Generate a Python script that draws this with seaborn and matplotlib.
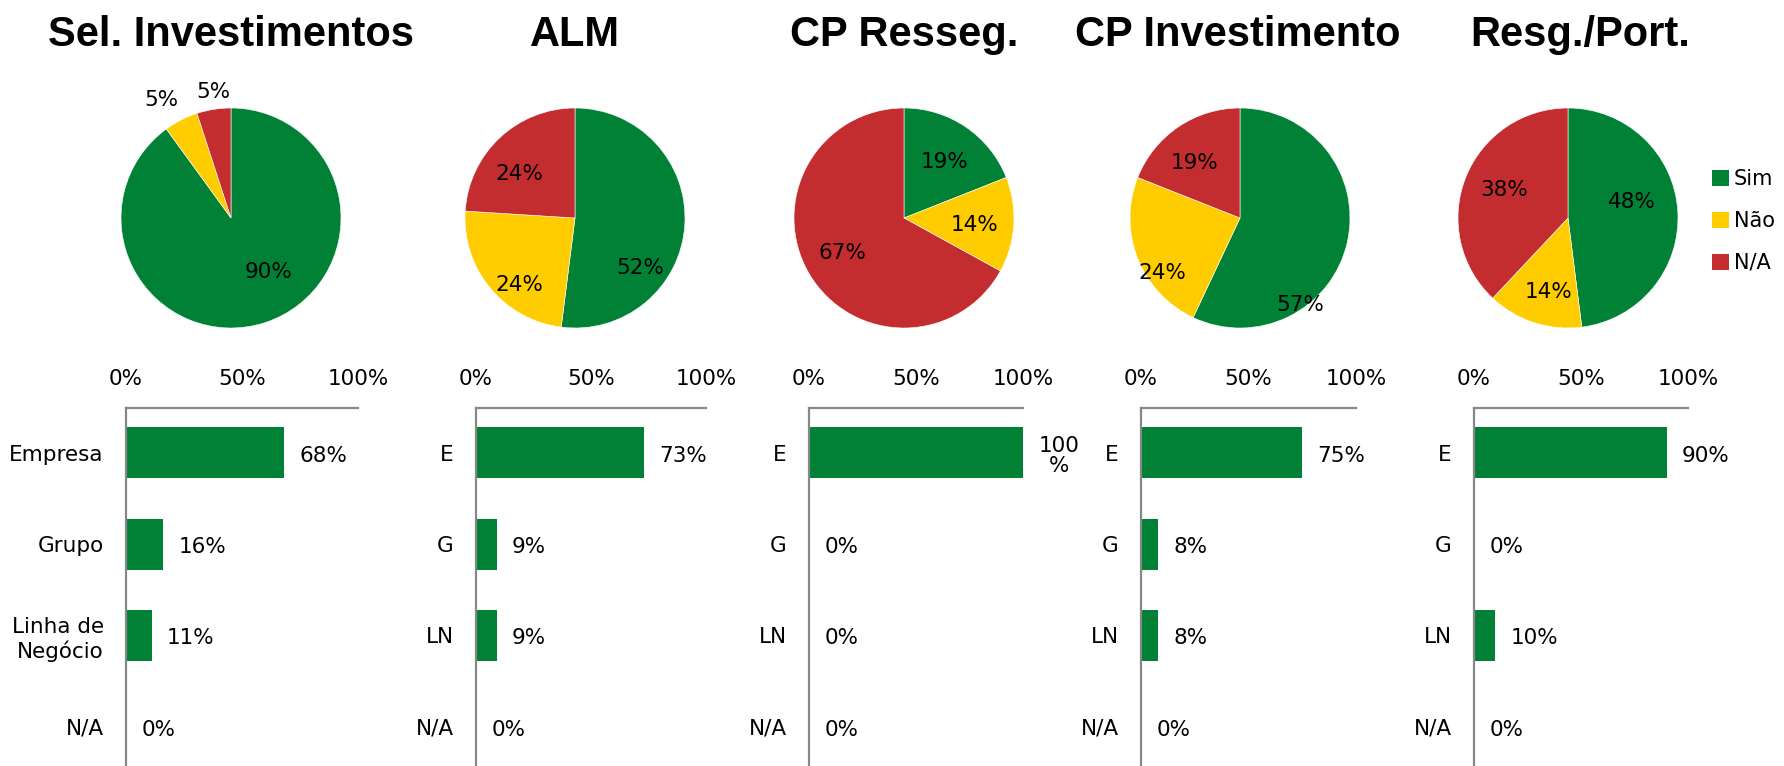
import matplotlib
matplotlib.use("Agg")
import matplotlib.pyplot as plt
from matplotlib.patches import Patch
import seaborn as sns
import pandas as pd

# ---------------- data ----------------
titles = ["Sel. Investimentos", "ALM", "CP Resseg.", "CP Investimento", "Resg./Port."]
pie_labels = ["Sim", "Não", "N/A"]
pie_sel = [90, 5, 5]
pie_alm = [52, 24, 24]
pie_cpr = [19, 14, 67]
pie_cpi = [57, 24, 19]
pie_rsg = [48, 14, 38]
pies = [pie_sel, pie_alm, pie_cpr, pie_cpi, pie_rsg]

cats_long = ["Empresa", "Grupo", "Linha de\nNegócio", "N/A"]
cats_short = ["E", "G", "LN", "N/A"]
bar_sel = [68, 16, 11, 0]
bar_alm = [73, 9, 9, 0]
bar_cpr = [100, 0, 0, 0]
bar_cpi = [75, 8, 8, 0]
bar_rsg = [90, 0, 10, 0]
bars = [bar_sel, bar_alm, bar_cpr, bar_cpi, bar_rsg]
bar_cats = [cats_long, cats_short, cats_short, cats_short, cats_short]
x_ticks = [0, 50, 100]
x_ticklabels = ["0%", "50%", "100%"]

# ---------------- style / layout ----------------
GREEN, YELLOW, RED = "#008136", "#FFCC00", "#C32D2F"
pie_colors = [GREEN, YELLOW, RED]
SPINE = "#878787"

sns.set_theme(style="white")
plt.rcParams["font.family"] = ["DejaVu Sans"]
plt.rcParams["text.color"] = "black"
plt.rcParams["xtick.color"] = "black"
plt.rcParams["ytick.color"] = "black"
plt.rcParams["axes.labelcolor"] = "black"
TITLE_FONT = ["Liberation Sans Narrow", "Liberation Sans", "DejaVu Sans"]

W, H = 1784, 766
fig = plt.figure(figsize=(W / 100, H / 100), dpi=100)


def px_axes(x0, y_top, w, h):
    return fig.add_axes([x0 / W, 1 - (y_top + h) / H, w / W, h / H])


pie_cx = [231, 575, 904, 1240, 1568]
title_cx = [231, 575, 904, 1238, 1580]
pie_cy = 218
R = 110
# label positions relative to pie radius (Excel "best fit" placement)
pie_lab_pos = [
    [(0.34, -0.49), (-0.63, 1.07), (-0.16, 1.15)],
    [(0.59, -0.45), (-0.51, -0.61), (-0.51, 0.40)],
    [(0.37, 0.51), (0.64, -0.06), (-0.56, -0.32)],
    [(0.55, -0.79), (-0.71, -0.50), (-0.41, 0.50)],
    [(0.58, 0.15), (-0.18, -0.67), (-0.58, 0.25)],
]

bar_x0 = [126, 476, 809, 1141, 1474]
bar_w = [232, 230, 214, 215, 214]
bar_top = 408
bar_h = H - bar_top

for i in range(5):
    # title
    fig.text(title_cx[i] / W, 1 - 35 / H, titles[i], ha="center", va="center",
             fontsize=30, fontweight="bold", family=TITLE_FONT, color="black")

    # pie
    pax = px_axes(pie_cx[i] - R, pie_cy - R, 2 * R, 2 * R)
    pax.pie(pies[i], colors=pie_colors, startangle=90, counterclock=False,
            radius=1, wedgeprops=dict(linewidth=0.4, edgecolor="white"))
    pax.set_xlim(-1, 1)
    pax.set_ylim(-1, 1)
    pax.set_aspect("equal")
    pax.axis("off")
    for v, (lx, ly) in zip(pies[i], pie_lab_pos[i]):
        pax.text(lx, ly, f"{v}%", ha="center", va="center", fontsize=15.5,
                 color="black")

    # bars
    bax = px_axes(bar_x0[i], bar_top, bar_w[i], bar_h)
    df = pd.DataFrame({"cat": bar_cats[i], "val": bars[i]})
    sns.barplot(data=df, x="val", y="cat", orient="h", color=GREEN,
                saturation=1, width=0.56, linewidth=0, ax=bax)
    bax.set_xlim(0, 100)
    bax.set_ylim(3.43, -0.49)
    bax.set_xlabel("")
    bax.set_ylabel("")
    bax.xaxis.tick_top()
    bax.set_xticks(x_ticks)
    bax.set_xticklabels(x_ticklabels)
    bax.tick_params(axis="x", length=0, pad=14, labelsize=15.5, labelcolor="black")
    bax.tick_params(axis="y", length=0, pad=16, labelsize=15.5, labelcolor="black")
    for lab in bax.get_yticklabels():
        lab.set_multialignment("right")
        lab.set_verticalalignment("center_baseline")
    for side in ["right", "bottom"]:
        bax.spines[side].set_visible(False)
    for side in ["top", "left"]:
        bax.spines[side].set_visible(True)
        bax.spines[side].set_color(SPINE)
        bax.spines[side].set_linewidth(1.6)
    bax.grid(False)
    for j, v in enumerate(bars[i]):
        txt = f"{v}%" if v < 100 else f"{v}\n%"
        bax.annotate(txt, xy=(v, j), xytext=(11, -2), textcoords="offset points",
                     ha="left", va="center", fontsize=15.5, multialignment="center",
                     linespacing=1.0, annotation_clip=False, color="black")

handles = [Patch(facecolor=c, edgecolor="none") for c in pie_colors]
leg = fig.legend(handles, pie_labels, loc="center left",
                 bbox_to_anchor=(1712 / W, 1 - 221 / H), frameon=False,
                 handlelength=0.8, handleheight=0.8, handletextpad=0.25,
                 labelspacing=1.05, fontsize=15, borderpad=0, borderaxespad=0)
for t in leg.get_texts():
    t.set_color("black")

fig.savefig("out.png", dpi=100)
